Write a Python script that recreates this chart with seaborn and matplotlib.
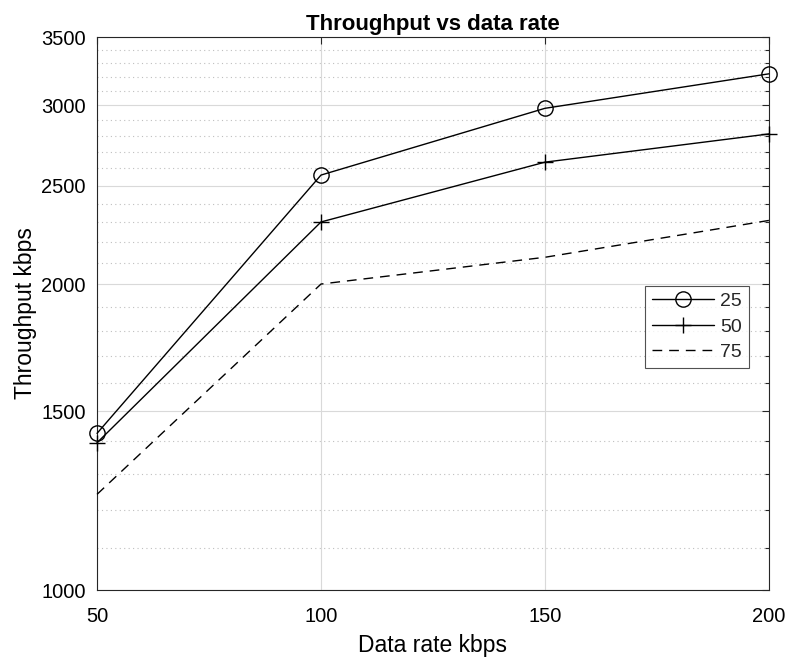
import matplotlib
matplotlib.use("Agg")
import matplotlib.pyplot as plt
import matplotlib.ticker as mticker
import numpy as np
import pandas as pd
import seaborn as sns

# Данные
data_rate = [50, 100, 150, 200]
thr_25 = [1426, 2560, 2978, 3220]
thr_50 = [1396, 2302, 2636, 2810]
thr_75 = [1242, 2000, 2125, 2310]
labels = ["25", "50", "75"]

sns.set_theme(style="white")
plt.rcParams["font.family"] = ["Liberation Sans", "DejaVu Sans"]

fig = plt.figure(figsize=(7.96, 6.61), dpi=100)
ax = fig.add_axes([0.1219, 0.1074, 0.8441, 0.8366])

styles = [
    dict(marker="o", linestyle="-", markersize=11, markerfacecolor="none"),
    dict(marker="+", linestyle="-", markersize=12),
    dict(marker=None, linestyle=(0, (7, 5))),
]
for vals, lab, st in zip([thr_25, thr_50, thr_75], labels, styles):
    df = pd.DataFrame({"x": data_rate, "y": vals})
    sns.lineplot(data=df, x="x", y="y", ax=ax, color="black", linewidth=1.0,
                 markeredgecolor="black", markeredgewidth=1.0, label=lab,
                 clip_on=False, zorder=5, **st)

ax.set_yscale("log")
ax.set_xlim(50, 200)
ax.set_ylim(1000, 3500)
ax.set_xticks([50, 100, 150, 200])
ax.yaxis.set_major_locator(mticker.FixedLocator([1000, 1500, 2000, 2500, 3000, 3500]))
ax.yaxis.set_major_formatter(mticker.FixedFormatter(["1000", "1500", "2000", "2500", "3000", "3500"]))
minor = [v for v in range(1100, 3500, 100) if v % 500 != 0]
ax.yaxis.set_minor_locator(mticker.FixedLocator(minor))
ax.yaxis.set_minor_formatter(mticker.NullFormatter())

ax.grid(True, which="major", color="#d9d9d9", linewidth=0.8, linestyle="-")
ax.grid(True, which="minor", axis="y", color="#bfbfbf", linewidth=0.8, linestyle=(0, (1, 3)))
ax.tick_params(which="both", direction="in", top=True, right=True, color="#262626",
               labelcolor="black", labelsize=14.5, length=5, width=0.8)
ax.tick_params(which="minor", length=3)
ax.tick_params(axis="x", pad=12)
ax.tick_params(axis="y", pad=8)
for s in ax.spines.values():
    s.set_color("#262626")
    s.set_linewidth(0.8)

ax.set_xlabel("Data rate kbps", fontsize=16.5, labelpad=6, color="black")
ax.set_ylabel("Throughput kbps", fontsize=16.5, labelpad=3, color="black")
ax.set_title("Throughput vs data rate", fontsize=16, fontweight="bold", pad=5, color="black")

leg = ax.legend(loc="upper right", bbox_to_anchor=(0.97, 0.55), fontsize=14,
                frameon=True, fancybox=False, edgecolor="#262626",
                handlelength=3.2, borderpad=0.35, labelspacing=0.4,
                handletextpad=0.3, borderaxespad=0)
leg.get_frame().set_linewidth(0.8)

fig.savefig("out.png", dpi=100)
